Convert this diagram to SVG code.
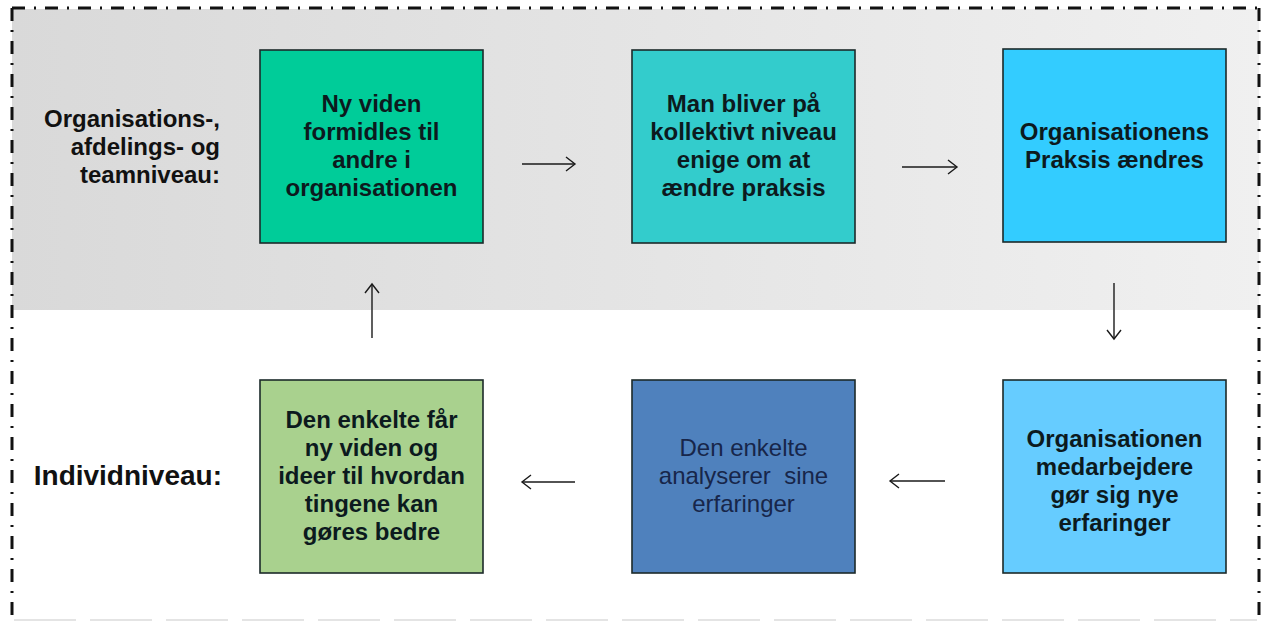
<svg xmlns="http://www.w3.org/2000/svg" width="1263" height="623" viewBox="0 0 1263 623">
<defs>
<linearGradient id="band" x1="0" y1="0" x2="1" y2="0">
<stop offset="0" stop-color="#d9d9d9"/>
<stop offset="1" stop-color="#f0f0f0"/>
</linearGradient>
<marker id="open" markerUnits="userSpaceOnUse" markerWidth="16" markerHeight="18" refX="11" refY="8" orient="auto" viewBox="0 0 16 18">
<path d="M2,1 L11,8 L2,15" fill="none" stroke="#1a1a1a" stroke-width="1.4"/>
</marker>
<style>
.box{stroke:#1c2a2a;stroke-width:1.6}
.t{font-family:"Liberation Sans",Arial,sans-serif;font-size:24px;font-weight:bold;fill:#0c1a1e;text-anchor:middle}
.tr{font-family:"Liberation Sans",Arial,sans-serif;font-size:24px;font-weight:normal;fill:#17264a;text-anchor:middle}
.lab{font-family:"Liberation Sans",Arial,sans-serif;font-weight:bold;fill:#111;text-anchor:end}
.border{fill:none;stroke:#111;stroke-width:3;stroke-dasharray:13 9 2 9}
.conn{fill:none;stroke:#1a1a1a;stroke-width:1.4;marker-end:url(#open)}
</style>
</defs>
<rect x="0" y="0" width="1263" height="623" fill="#ffffff"/>
<rect id="band-bg" x="12" y="9" width="1247" height="301" fill="url(#band)"/>
<g id="frame">
<line class="border" x1="12" y1="8" x2="1260" y2="8"/>
<line class="border" x1="12" y1="8" x2="12" y2="621"/>
<line class="border" x1="1259" y1="8" x2="1259" y2="621"/>
<line x1="14" y1="620" x2="1257" y2="620" stroke="#e4e4e4" stroke-width="2" stroke-dasharray="62 14"/>
</g>
<g id="label-org">
<text class="lab" font-size="24" x="220" y="127">Organisations-,</text>
<text class="lab" font-size="24" x="220" y="155">afdelings- og</text>
<text class="lab" font-size="24" x="220" y="183">teamniveau:</text>
</g>
<g id="label-ind">
<text class="lab" font-size="28" x="222" y="485">Individniveau:</text>
</g>
<g id="n1">
<rect class="box" x="260" y="50" width="223" height="193" fill="#00cc99"/>
<text class="t" x="371.5" y="112">Ny viden</text>
<text class="t" x="371.5" y="140">formidles til</text>
<text class="t" x="371.5" y="168">andre i</text>
<text class="t" x="371.5" y="196">organisationen</text>
</g>
<g id="n2">
<rect class="box" x="632" y="50" width="223" height="193" fill="#33cccc"/>
<text class="t" x="743.5" y="112">Man bliver på</text>
<text class="t" x="743.5" y="140">kollektivt niveau</text>
<text class="t" x="743.5" y="168">enige om at</text>
<text class="t" x="743.5" y="196">ændre praksis</text>
</g>
<g id="n3">
<rect class="box" x="1003" y="49" width="223" height="193" fill="#33ccff"/>
<text class="t" x="1114.5" y="140">Organisationens</text>
<text class="t" x="1114.5" y="168">Praksis ændres</text>
</g>
<g id="n4">
<rect class="box" x="260" y="380" width="223" height="193" fill="#a9d18e"/>
<text class="t" x="371.5" y="428">Den enkelte får</text>
<text class="t" x="371.5" y="456">ny viden og</text>
<text class="t" x="371.5" y="484">ideer til hvordan</text>
<text class="t" x="371.5" y="512">tingene kan</text>
<text class="t" x="371.5" y="540">gøres bedre</text>
</g>
<g id="n5">
<rect class="box" x="632" y="380" width="223" height="193" fill="#4f81bd"/>
<text class="tr" x="743.5" y="456">Den enkelte</text>
<text class="tr" x="743.5" y="484" xml:space="preserve">analyserer  sine</text>
<text class="tr" x="743.5" y="512">erfaringer</text>
</g>
<g id="n6">
<rect class="box" x="1003" y="380" width="223" height="193" fill="#66ccff"/>
<text class="t" x="1114.5" y="447">Organisationen</text>
<text class="t" x="1114.5" y="475">medarbejdere</text>
<text class="t" x="1114.5" y="503">gør sig nye</text>
<text class="t" x="1114.5" y="531">erfaringer</text>
</g>
<g id="connectors">
<line class="conn" x1="522" y1="164" x2="575" y2="164"/>
<line class="conn" x1="902" y1="167" x2="957" y2="167"/>
<line class="conn" x1="1114" y1="283" x2="1114" y2="339"/>
<line class="conn" x1="945" y1="481" x2="890" y2="481"/>
<line class="conn" x1="575" y1="482" x2="522" y2="482"/>
<line class="conn" x1="372" y1="338" x2="372" y2="284"/>
</g>
</svg>
